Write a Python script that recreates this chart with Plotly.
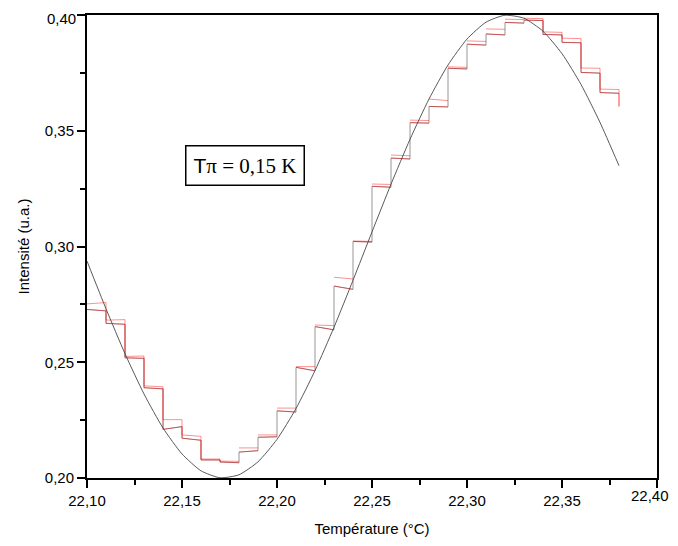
import plotly.graph_objects as go

# Temperature grid (step boundaries and fitted-curve abscissae), °C
temp = [22.10, 22.11, 22.12, 22.13, 22.14, 22.15, 22.16, 22.17, 22.18, 22.19,
        22.20, 22.21, 22.22, 22.23, 22.24, 22.25, 22.26, 22.27, 22.28, 22.29,
        22.30, 22.31, 22.32, 22.33, 22.34, 22.35, 22.36, 22.37, 22.38]

# Smooth (fitted) intensity curve read at each temperature
fit_intensity = [0.2937, 0.2731, 0.2537, 0.2363, 0.2216, 0.2104, 0.2031, 0.2001,
                 0.2014, 0.2070, 0.2167, 0.2300, 0.2464, 0.2651, 0.2854, 0.3063,
                 0.3269, 0.3463, 0.3637, 0.3784, 0.3896, 0.3969, 0.3999, 0.3986,
                 0.3930, 0.3833, 0.3700, 0.3536, 0.3349]

# Measured staircase: level at start / end of each 0.01 K step (upper red record)
red_upper_start = [0.2752, 0.2682, 0.2525, 0.2398, 0.2252, 0.2186, 0.2082, 0.2073,
                   0.2130, 0.2186, 0.2302, 0.2481, 0.2661, 0.2867, 0.3024, 0.3270,
                   0.3395, 0.3546, 0.3637, 0.3776, 0.3888, 0.3940, 0.3982, 0.3986,
                   0.3927, 0.3900, 0.3771, 0.3680]
red_upper_end = [0.2758, 0.2684, 0.2527, 0.2394, 0.2252, 0.2180, 0.2082, 0.2072,
                 0.2130, 0.2186, 0.2302, 0.2481, 0.2658, 0.2860, 0.3022, 0.3268,
                 0.3392, 0.3544, 0.3630, 0.3774, 0.3886, 0.3938, 0.3980, 0.3984,
                 0.3925, 0.3898, 0.3770, 0.3678]

# Lower red record
red_lower_start = [0.2728, 0.2668, 0.2519, 0.2390, 0.2210, 0.2172, 0.2078, 0.2069,
                   0.2112, 0.2176, 0.2290, 0.2478, 0.2654, 0.2829, 0.3022, 0.3260,
                   0.3382, 0.3535, 0.3605, 0.3770, 0.3874, 0.3918, 0.3968, 0.3978,
                   0.3916, 0.3882, 0.3752, 0.3665]
red_lower_end = [0.2722, 0.2664, 0.2517, 0.2385, 0.2222, 0.2163, 0.2078, 0.2066,
                 0.2118, 0.2178, 0.2285, 0.2463, 0.2640, 0.2815, 0.3019, 0.3256,
                 0.3378, 0.3533, 0.3603, 0.3767, 0.3870, 0.3914, 0.3965, 0.3976,
                 0.3914, 0.3880, 0.3749, 0.3662]

red_final_drop = 0.3605

x_ticks = [22.10, 22.15, 22.20, 22.25, 22.30, 22.35, 22.40]
x_tick_labels = ["22,10", "22,15", "22,20", "22,25", "22,30", "22,35", "22,40"]
y_ticks = [0.20, 0.25, 0.30, 0.35, 0.40]
y_tick_labels = ["0,20", "0,25", "0,30", "0,35", "0,40"]


def staircase(starts, ends, join_all, tail=None):
    xs, ys = [], []
    for k in range(len(starts)):
        if k > 0:
            descending = starts[k] <= ends[k - 1]
            if not (join_all or descending):
                xs.append(None)
                ys.append(None)
        xs += [temp[k], temp[k + 1]]
        ys += [starts[k], ends[k]]
    if tail is not None:
        xs.append(temp[len(starts)])
        ys.append(tail)
    return xs, ys


fig = go.Figure()

gx, gy = staircase(red_lower_start, red_lower_end, True)
fig.add_trace(go.Scatter(x=gx, y=gy, mode="lines",
                         line=dict(color="rgb(150,150,150)", width=1),
                         hoverinfo="skip", showlegend=False))

for s, e in [(red_upper_start, red_upper_end), (red_lower_start, red_lower_end)]:
    rx, ry = staircase(s, e, False, tail=red_final_drop)
    fig.add_trace(go.Scatter(x=rx, y=ry, mode="lines", connectgaps=False,
                             line=dict(color="rgba(255,0,0,0.55)", width=0.8),
                             hoverinfo="skip", showlegend=False))

fig.add_trace(go.Scatter(x=temp, y=fit_intensity, mode="lines",
                         line=dict(color="rgb(70,70,70)", width=0.9, shape="spline",
                                   smoothing=0.6),
                         hoverinfo="skip", showlegend=False))

fig.add_annotation(
    x=22.183, y=0.335, xref="x", yref="y", showarrow=False,
    text="<span style='font-family:Liberation Sans'>T</span>"
         "<span style='font-family:Liberation Serif'>π = 0,15 K</span>",
    font=dict(size=21, color="black", family="Liberation Serif"),
    bordercolor="black", borderwidth=1.5, borderpad=7, bgcolor="white",
)

# edge tick labels placed as annotations so they stay inside the page
tick_font = dict(size=15, color="black", family="Liberation Sans")
fig.add_annotation(
    x=x_ticks[-1], y=y_ticks[0], xref="x", yref="y", showarrow=False,
    text=x_tick_labels[-1], xanchor="right", yanchor="middle",
    xshift=14, yshift=-17, font=tick_font,
)
fig.add_annotation(
    x=x_ticks[0], y=y_ticks[-1], xref="x", yref="y", showarrow=False,
    text=y_tick_labels[-1], xanchor="right", yanchor="top",
    xshift=-9, yshift=7, font=tick_font,
)

axis_common = dict(
    showline=True, linecolor="black", linewidth=2, mirror=True,
    ticks="outside", ticklen=8, tickwidth=2, tickcolor="black",
    showgrid=False, zeroline=False, automargin=False,
    ticklabeloverflow="allow",
    tickfont=tick_font,
)

fig.update_xaxes(range=[22.10, 22.40], tickvals=x_ticks,
                 ticktext=x_tick_labels[:-1] + [""],
                 minor=dict(dtick=0.025, ticks="outside", ticklen=5,
                            tickwidth=1.5, tickcolor="black", tick0=22.10),
                 title=dict(text="Température (°C)", standoff=15,
                            font=dict(size=15, color="black",
                                      family="Liberation Sans")),
                 **axis_common)
fig.update_yaxes(range=[0.20, 0.40], tickvals=y_ticks,
                 ticktext=y_tick_labels[:-1] + [""],
                 minor=dict(dtick=0.025, ticks="outside", ticklen=5,
                            tickwidth=1.5, tickcolor="black", tick0=0.20),
                 title=dict(text="Intensité (u.a.)", standoff=12,
                            font=dict(size=15, color="black",
                                      family="Liberation Sans")),
                 **axis_common)

fig.update_layout(
    width=678, height=546,
    margin=dict(l=79, r=29, t=7, b=76),
    plot_bgcolor="white", paper_bgcolor="white",
    separators=", ",
    font=dict(family="Liberation Sans", color="black"),
)

fig.write_html("out.html")
